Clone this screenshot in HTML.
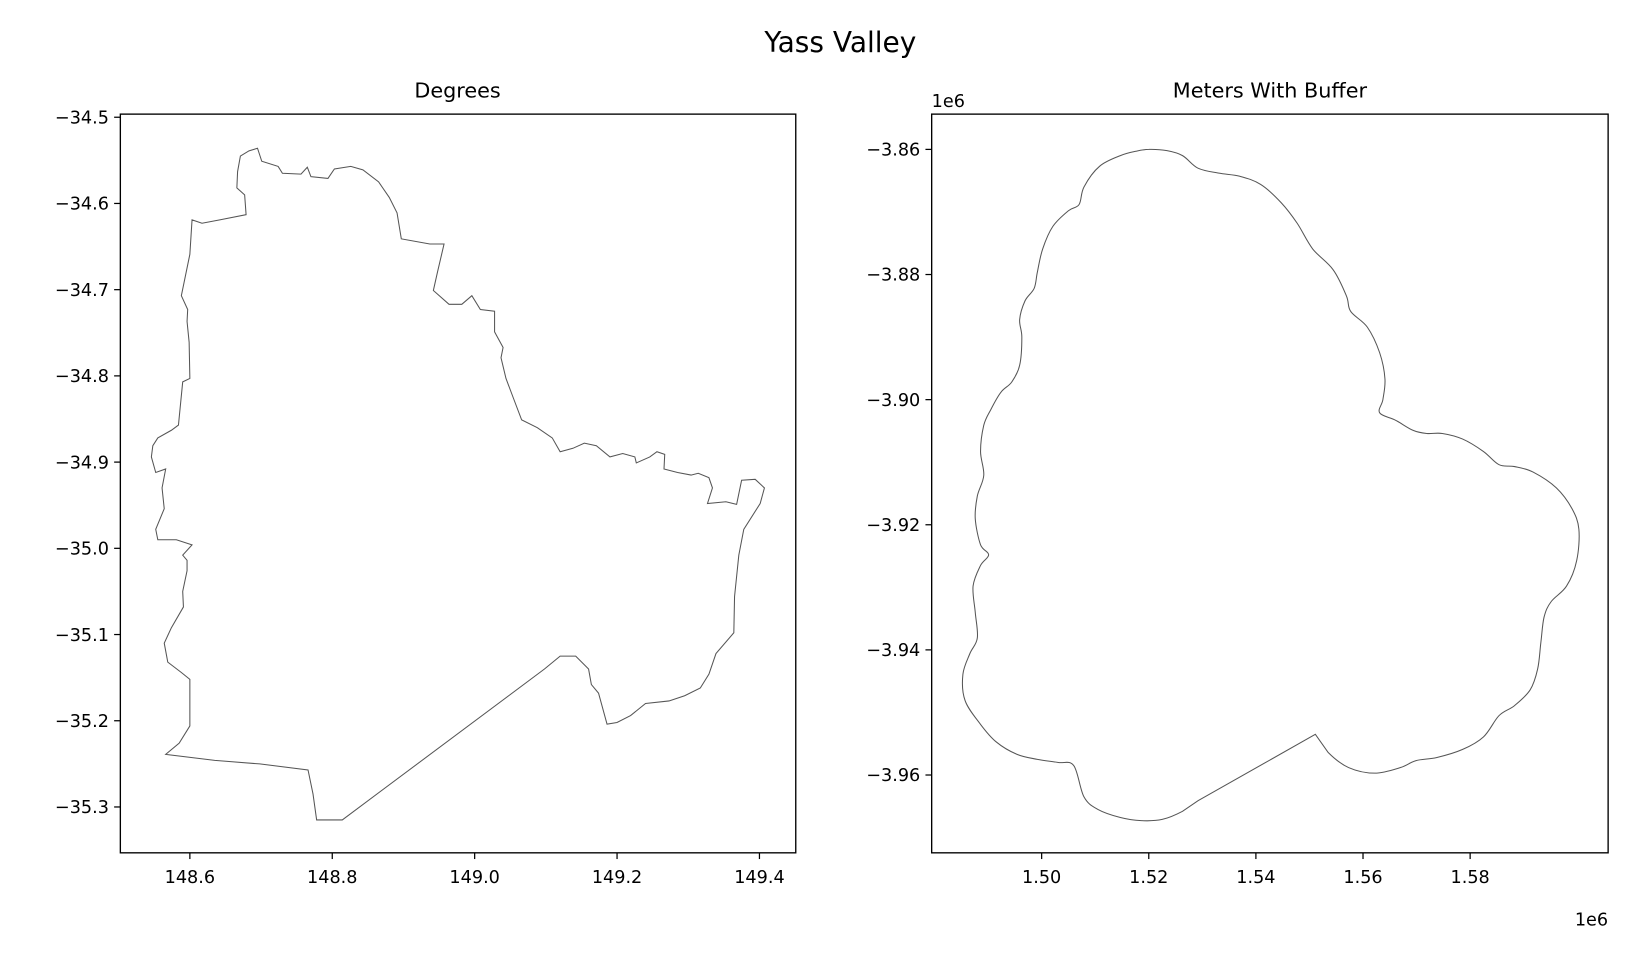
<!DOCTYPE html>
<html><head><meta charset="utf-8"><style>
body{margin:0;background:#fff;}
svg text{font-family:"DejaVu Sans","Liberation Sans",sans-serif;fill:#000;}
</style></head><body>
<svg id="fig" width="1626" height="952" viewBox="0 0 1626 952" xmlns="http://www.w3.org/2000/svg">
<rect width="1626" height="952" fill="#fff"/>
<g transform="scale(1.0375)">
<text x="810" y="50" font-size="27" text-anchor="middle">Yass Valley</text>
<text x="441" y="94" font-size="20" text-anchor="middle">Degrees</text>
<text x="1224" y="94" font-size="20" text-anchor="middle">Meters With Buffer</text>
<text x="898" y="103" font-size="17">1e6</text>
<text x="1550" y="892" font-size="17" text-anchor="end">1e6</text>
<g id="left"></g>
<g id="right"></g>
</g>
</svg>
<script>
const leftLon=[148.671,148.683,148.695,148.701,148.724,148.730,148.756,148.765,148.770,148.794,148.803,148.826,148.843,148.865,148.880,148.891,148.897,148.937,148.957,148.948,148.942,148.964,148.982,148.996,149.008,149.028,149.028,149.040,149.037,149.044,149.055,149.066,149.088,149.109,149.120,149.138,149.154,149.171,149.190,149.208,149.225,149.227,149.246,149.256,149.267,149.266,149.285,149.304,149.314,149.329,149.334,149.327,149.353,149.368,149.375,149.394,149.407,149.401,149.378,149.371,149.365,149.364,149.339,149.329,149.317,149.295,149.273,149.240,149.219,149.200,149.186,149.174,149.164,149.160,149.142,149.120,149.098,148.814,148.778,148.773,148.766,148.698,148.635,148.566,148.585,148.600,148.600,148.588,148.569,148.564,148.574,148.591,148.590,148.596,148.596,148.590,148.603,148.581,148.555,148.552,148.564,148.561,148.566,148.552,148.546,148.548,148.555,148.574,148.584,148.590,148.600,148.599,148.596,148.597,148.588,148.600,148.603,148.617,148.642,148.679,148.677,148.666,148.667];
const leftLat=[-34.545,-34.539,-34.536,-34.551,-34.557,-34.565,-34.566,-34.558,-34.569,-34.571,-34.560,-34.557,-34.561,-34.575,-34.593,-34.611,-34.641,-34.647,-34.647,-34.679,-34.701,-34.717,-34.717,-34.707,-34.723,-34.725,-34.749,-34.767,-34.779,-34.803,-34.827,-34.851,-34.860,-34.872,-34.888,-34.884,-34.878,-34.881,-34.894,-34.890,-34.894,-34.901,-34.894,-34.888,-34.891,-34.908,-34.912,-34.915,-34.913,-34.918,-34.930,-34.948,-34.946,-34.949,-34.921,-34.920,-34.930,-34.948,-34.978,-35.008,-35.056,-35.098,-35.122,-35.146,-35.162,-35.171,-35.177,-35.180,-35.194,-35.202,-35.204,-35.168,-35.158,-35.140,-35.125,-35.125,-35.140,-35.315,-35.315,-35.285,-35.257,-35.250,-35.246,-35.239,-35.226,-35.206,-35.152,-35.144,-35.132,-35.110,-35.092,-35.068,-35.050,-35.026,-35.014,-35.008,-34.996,-34.990,-34.990,-34.978,-34.954,-34.930,-34.908,-34.912,-34.894,-34.881,-34.872,-34.863,-34.857,-34.807,-34.803,-34.761,-34.737,-34.723,-34.707,-34.659,-34.619,-34.623,-34.619,-34.613,-34.590,-34.582,-34.563];
const rightX=[1.5200,1.5234,1.5263,1.5292,1.5331,1.5370,1.5409,1.5447,1.5477,1.5506,1.5544,1.5569,1.5577,1.5608,1.5631,1.5641,1.5637,1.5631,1.5661,1.5693,1.5719,1.5748,1.5786,1.5825,1.5854,1.5883,1.5918,1.5961,1.5990,1.6003,1.5999,1.5980,1.5951,1.5938,1.5932,1.5926,1.5912,1.5883,1.5854,1.5825,1.5786,1.5738,1.5699,1.5670,1.5622,1.5573,1.5535,1.5511,1.5292,1.5263,1.5225,1.5186,1.5147,1.5105,1.5079,1.5060,1.5031,1.4992,1.4954,1.4915,1.4886,1.4857,1.4853,1.4866,1.4880,1.4876,1.4872,1.4886,1.4901,1.4886,1.4876,1.4880,1.4892,1.4886,1.4892,1.4905,1.4924,1.4944,1.4959,1.4963,1.4959,1.4969,1.4986,1.4992,1.5002,1.5021,1.5050,1.5070,1.5079,1.5108,1.5147,1.5176];
const rightY=[-3.8600,-3.8602,-3.8610,-3.8630,-3.8638,-3.8643,-3.8656,-3.8685,-3.8718,-3.8759,-3.8792,-3.8834,-3.8859,-3.8884,-3.8925,-3.8967,-3.9000,-3.9021,-3.9033,-3.9049,-3.9054,-3.9054,-3.9063,-3.9083,-3.9104,-3.9107,-3.9116,-3.9141,-3.9174,-3.9207,-3.9257,-3.9298,-3.9323,-3.9348,-3.9389,-3.9431,-3.9464,-3.9489,-3.9505,-3.9539,-3.9559,-3.9572,-3.9577,-3.9588,-3.9597,-3.9588,-3.9564,-3.9535,-3.9641,-3.9658,-3.9671,-3.9673,-3.9668,-3.9655,-3.9635,-3.9585,-3.9580,-3.9575,-3.9567,-3.9547,-3.9519,-3.9481,-3.9439,-3.9406,-3.9381,-3.9340,-3.9298,-3.9265,-3.9248,-3.9232,-3.9190,-3.9154,-3.9121,-3.9083,-3.9041,-3.9016,-3.8988,-3.8972,-3.8945,-3.8900,-3.8872,-3.8842,-3.8822,-3.8796,-3.8759,-3.8723,-3.8698,-3.8688,-3.8660,-3.8627,-3.8610,-3.8603];
const leftXTicks=[148.6,148.8,149.0,149.2,149.4];
const leftXLabels=["148.6","148.8","149.0","149.2","149.4"];
const leftYTicks=[-34.5,-34.6,-34.7,-34.8,-34.9,-35.0,-35.1,-35.2,-35.3];
const leftYLabels=["\u221234.5","\u221234.6","\u221234.7","\u221234.8","\u221234.9","\u221235.0","\u221235.1","\u221235.2","\u221235.3"];
const rightXTicks=[1.50,1.52,1.54,1.56,1.58];
const rightXLabels=["1.50","1.52","1.54","1.56","1.58"];
const rightYTicks=[-3.86,-3.88,-3.90,-3.92,-3.94,-3.96];
const rightYLabels=["\u22123.86","\u22123.88","\u22123.90","\u22123.92","\u22123.94","\u22123.96"];

const NS="http://www.w3.org/2000/svg";
const lx=v=>183+(v-148.6)*686.25, ly=v=>113+(-34.5-v)*831;
const rx=v=>1004+(v-1.50)*5162.5, ry=v=>144+(-3.86-v)*6030;
function mk(tag,attrs,parent){const e=document.createElementNS(NS,tag);for(const k in attrs)e.setAttribute(k,attrs[k]);parent.appendChild(e);return e;}
function axes(g,box,xs,xl,ys,yl,fx,fy,pre){
  const f=mk('rect',{x:box[0],y:box[1],width:box[2]-box[0],height:box[3]-box[1],fill:'none',stroke:'#000','stroke-width':1.3},g);
  
  
  xs.forEach((v,i)=>{const x=fx(v);
    const t=mk('line',{x1:x,x2:x,y1:box[3],y2:box[3]+6,stroke:'#000','stroke-width':1.2},g);
    
    
    const l=mk('text',{x:x,y:box[3]+29,'font-size':17,'text-anchor':'middle'},g);l.textContent=xl[i];
    
    });
  ys.forEach((v,i)=>{const y=fy(v);
    const t=mk('line',{x1:box[0]-6,x2:box[0],y1:y,y2:y,stroke:'#000','stroke-width':1.2},g);
    
    
    const l=mk('text',{x:box[0]-11,y:y+6,'font-size':17,'text-anchor':'end'},g);l.textContent=yl[i];
    
    });
}
const L=document.getElementById('left'),R=document.getElementById('right');
axes(L,[116,110,767,822],leftXTicks,leftXLabels,leftYTicks,leftYLabels,lx,ly,'left');
axes(R,[898,110,1550,822],rightXTicks,rightXLabels,rightYTicks,rightYLabels,rx,ry,'right');
let d=leftLon.map((v,i)=>(i?'L':'M')+lx(v).toFixed(1)+','+ly(leftLat[i]).toFixed(1)).join('')+'Z';
const p1=mk('path',{d:d,fill:'none',stroke:'#555','stroke-width':1},L);


const pts=rightX.map((v,i)=>[rx(v),ry(rightY[i])]);const n=pts.length;
let d2='M'+pts[0][0]+','+pts[0][1];
for(let i=0;i<n;i++){const p0=pts[(i-1+n)%n],a=pts[i],b=pts[(i+1)%n],p3=pts[(i+2)%n];
  const sharp=(i===47||i===46||i===48);
  if(sharp){d2+='L'+b[0]+','+b[1];continue;}
  const c1=[a[0]+(b[0]-p0[0])/6,a[1]+(b[1]-p0[1])/6],c2=[b[0]-(p3[0]-a[0])/6,b[1]-(p3[1]-a[1])/6];
  d2+='C'+c1[0].toFixed(1)+','+c1[1].toFixed(1)+' '+c2[0].toFixed(1)+','+c2[1].toFixed(1)+' '+b[0].toFixed(1)+','+b[1].toFixed(1);}
const p2=mk('path',{d:d2+'Z',fill:'none',stroke:'#555','stroke-width':1},R);


</script>
</body></html>
